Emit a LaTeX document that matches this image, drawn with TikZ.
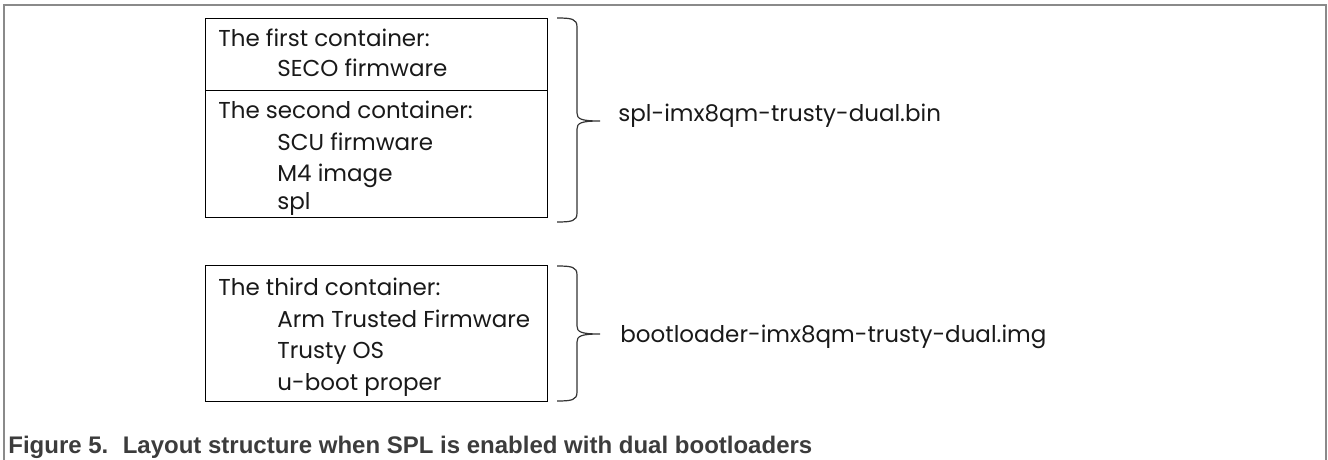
\documentclass[tikz,border=0pt]{standalone}
\usepackage{fontspec}
\setmainfont{Poppins}
\newfontfamily\capfont{Liberation Sans}
\definecolor{framegray}{HTML}{8A8A8A}
\definecolor{bracegray}{HTML}{333333}
\definecolor{capgray}{HTML}{3C3C3C}
\begin{document}
\begin{tikzpicture}[x=0.5pt,y=-0.5pt,
  box/.style={draw=black, line width=0.65pt, anchor=north west, inner sep=0pt, minimum width=171pt},
  txt/.style={anchor=base west, inner sep=0pt, text=black!90, font=\fontsize{11.5}{13}\selectfont},
  lbl/.style={anchor=base west, inner sep=0pt, text=black!90, font=\fontsize{11.5}{13}\selectfont},
  bracestroke/.style={draw=bracegray, line width=0.6pt},
  captext/.style={anchor=base west, inner sep=0pt, text=capgray, font=\capfont\bfseries\fontsize{12}{14}\selectfont}]
\useasboundingbox (0,0) rectangle (1328,460);
% frame (open at the bottom)
\draw[framegray, line width=0.8pt] (4,460) -- (4,5) -- (1326,5) -- (1326,460);
% boxes
\node[box, minimum height=36pt] (boxA) at (205,18) {};
\node[box, minimum height=63.5pt] (boxB) at (205,90) {};
\node[box, minimum height=68pt] (boxC) at (205,265) {};
% box texts
\node[txt] (a1) at (218,47) {The first container:};
\node[txt] (a2) at (277,77) {SECO firmware};
\node[txt] (b1) at (218,119) {The second container:};
\node[txt] (b2) at (277,151) {SCU firmware};
\node[txt] (b3) at (277,181) {M4 image};
\node[txt] (b4) at (277,209) {spl};
\node[txt] (c1) at (218,295) {The third container:};
\node[txt] (c2) at (277,327) {Arm Trusted Firmware};
\node[txt] (c3) at (277,358) {Trusty OS};
\node[txt] (c4) at (277,390) {u-boot proper};
% braces
\coordinate (t1) at (557,18);
\coordinate (m1) at (600,121);
\coordinate (e1) at (557,222);
\draw[bracestroke] (t1) .. controls (572,18) and (577,19) .. (577,27) -- (577,113)
  .. controls (577,119) and (581,121) .. (m1)
  .. controls (581,121) and (577,123) .. (577,129) -- (577,213)
  .. controls (577,221) and (572,222) .. (e1);
\coordinate (t2) at (557,266);
\coordinate (m2) at (600,334);
\coordinate (e2) at (557,401);
\draw[bracestroke] (t2) .. controls (572,266) and (577,267) .. (577,275) -- (577,326)
  .. controls (577,332) and (581,334) .. (m2)
  .. controls (581,334) and (577,336) .. (577,342) -- (577,392)
  .. controls (577,400) and (572,401) .. (e2);
% labels
\node[lbl] (l1) at (618,122) {spl-imx8qm-trusty-dual.bin};
\node[lbl] (l2) at (620,342) {bootloader-imx8qm-trusty-dual.img};
% caption
\node[captext] (caption) at (8,453) {Figure 5.\hspace{0.6em}Layout structure when SPL is enabled with dual bootloaders};
\end{tikzpicture}
\end{document}
